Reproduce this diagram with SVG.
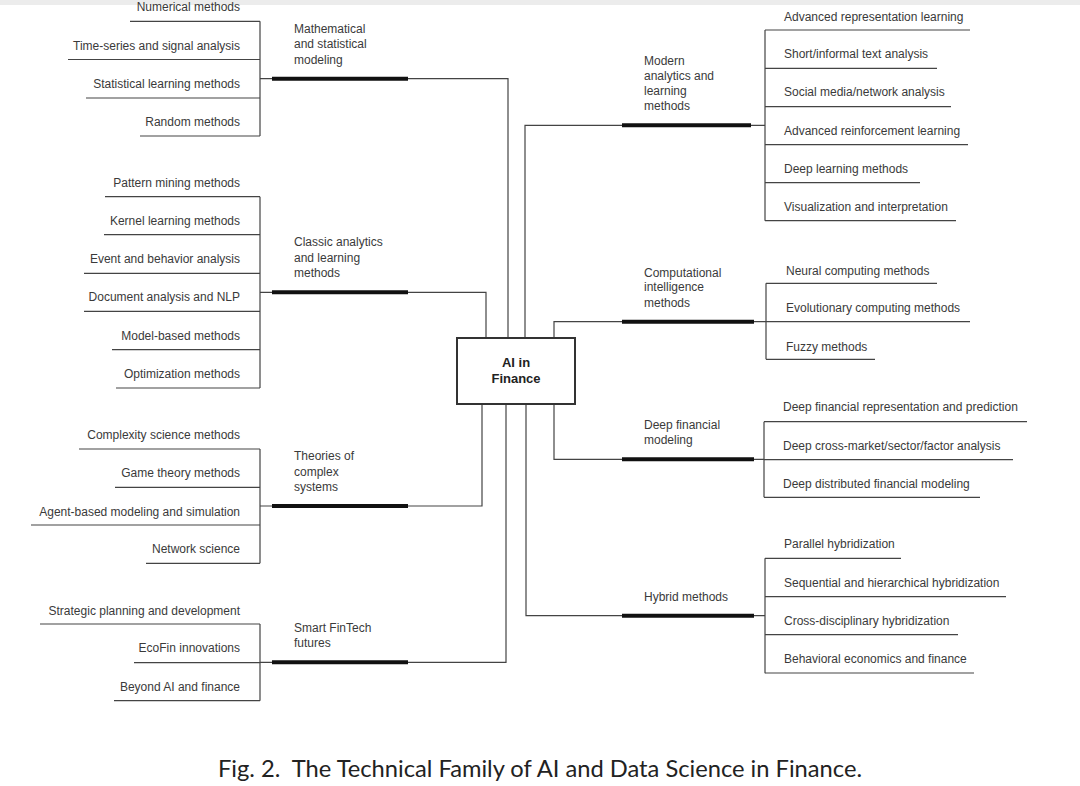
<svg xmlns="http://www.w3.org/2000/svg" width="1080" height="786" viewBox="0 0 1080 786">
<style>
text{font-family:"Liberation Sans",Arial,sans-serif;fill:#3a3a3a;font-size:12px}
.l{text-anchor:end}
.c{text-anchor:middle}
.thin{stroke:#444;stroke-width:1.2;fill:none}
.bar{stroke:#111;stroke-width:4;fill:none}
.box{fill:#fff;stroke:#333;stroke-width:2}
.ctr{font-size:13px;font-weight:bold;fill:#222}
.cap{font-family:Lato,"Open Sans",sans-serif;font-size:23px;fill:#222}
</style>
<rect x="0" y="0" width="1080" height="5" fill="#ececec"/>
<g id="connectors" class="thin">
<path d="M260 21.3V136M260 78.7H272M408 78.7H508V338"/>
<path d="M260 196.7V388M260 292.3H272M408 292.3H486V338"/>
<path d="M260 449V563.3M260 506H272M408 506H482V404"/>
<path d="M260 624V700.7M260 662.3H272M408 662.3H506V404"/>
<path d="M525 338V125.3H622M751 125.3H765M765 30V220.7"/>
<path d="M554 338V321.7H622M754 321.7H766M766 283.3V359.3"/>
<path d="M554 404V459.3H622M754 459.3H764M764 421.7V497.3"/>
<path d="M526 404V615.7H622M754 615.7H765M765 558.3V673.3"/>
</g>
<g id="center"><rect class="box" x="457" y="338" width="118" height="66"/><text class="c ctr" x="516" y="366.5">AI in</text><text class="c ctr" x="516" y="383">Finance</text></g>
<g id="cat-math"><path class="bar" d="M272 78.7H408"/><text x="294" y="33">Mathematical</text><text x="294" y="48.3">and statistical</text><text x="294" y="63.6">modeling</text></g>
<g id="cat-classic"><path class="bar" d="M272 292.3H408"/><text x="294" y="246.3">Classic analytics</text><text x="294" y="261.6">and learning</text><text x="294" y="277">methods</text></g>
<g id="cat-theories"><path class="bar" d="M272 506H408"/><text x="294" y="460">Theories of</text><text x="294" y="475.5">complex</text><text x="294" y="491">systems</text></g>
<g id="cat-smart"><path class="bar" d="M272 662.3H408"/><text x="294" y="631.7">Smart FinTech</text><text x="294" y="647">futures</text></g>
<g id="cat-modern"><path class="bar" d="M622 125.3H751"/><text x="644" y="64.7">Modern</text><text x="644" y="79.7">analytics and</text><text x="644" y="94.7">learning</text><text x="644" y="110">methods</text></g>
<g id="cat-ci"><path class="bar" d="M622 321.7H754"/><text x="644" y="276.7">Computational</text><text x="644" y="291.3">intelligence</text><text x="644" y="306.7">methods</text></g>
<g id="cat-deep"><path class="bar" d="M622 459.3H754"/><text x="644" y="429">Deep financial</text><text x="644" y="444">modeling</text></g>
<g id="cat-hybrid"><path class="bar" d="M622 615.7H754"/><text x="644" y="600.7">Hybrid methods</text></g>
<g id="leaf-numerical"><path class="thin" d="M130 21.3H260"/><text class="l" x="240" y="11.3">Numerical methods</text></g>
<g id="leaf-timeseries"><path class="thin" d="M68 59.5H260"/><text class="l" x="240" y="49.8">Time-series and signal analysis</text></g>
<g id="leaf-statlearn"><path class="thin" d="M86 98H260"/><text class="l" x="240" y="88">Statistical learning methods</text></g>
<g id="leaf-random"><path class="thin" d="M140 136H260"/><text class="l" x="240" y="126">Random methods</text></g>
<g id="leaf-pattern"><path class="thin" d="M105 196.7H260"/><text class="l" x="240" y="187">Pattern mining methods</text></g>
<g id="leaf-kernel"><path class="thin" d="M104 234.7H260"/><text class="l" x="240" y="225">Kernel learning methods</text></g>
<g id="leaf-event"><path class="thin" d="M84 273.3H260"/><text class="l" x="240" y="263.3">Event and behavior analysis</text></g>
<g id="leaf-document"><path class="thin" d="M84 311.3H260"/><text class="l" x="240" y="301.3">Document analysis and NLP</text></g>
<g id="leaf-model"><path class="thin" d="M112 349.7H260"/><text class="l" x="240" y="339.5">Model-based methods</text></g>
<g id="leaf-optim"><path class="thin" d="M116 388H260"/><text class="l" x="240" y="377.5">Optimization methods</text></g>
<g id="leaf-complexity"><path class="thin" d="M79 449H260"/><text class="l" x="240" y="439">Complexity science methods</text></g>
<g id="leaf-game"><path class="thin" d="M115 487.3H260"/><text class="l" x="240" y="477.3">Game theory methods</text></g>
<g id="leaf-agent"><path class="thin" d="M31 525H260"/><text class="l" x="240" y="515.5">Agent-based modeling and simulation</text></g>
<g id="leaf-network"><path class="thin" d="M146 563.3H260"/><text class="l" x="240" y="553.3">Network science</text></g>
<g id="leaf-strategic"><path class="thin" d="M40 624H260"/><text class="l" x="240" y="614.5">Strategic planning and development</text></g>
<g id="leaf-ecofin"><path class="thin" d="M134 662.7H260"/><text class="l" x="240" y="652.3">EcoFin innovations</text></g>
<g id="leaf-beyond"><path class="thin" d="M114 700.7H260"/><text class="l" x="240" y="690.7">Beyond AI and finance</text></g>
<g id="leaf-advrep"><path class="thin" d="M765 30H970"/><text x="784" y="20.5">Advanced representation learning</text></g>
<g id="leaf-short"><path class="thin" d="M765 68.3H937"/><text x="784" y="58.3">Short/informal text analysis</text></g>
<g id="leaf-social"><path class="thin" d="M765 106.7H951"/><text x="784" y="96.3">Social media/network analysis</text></g>
<g id="leaf-advrl"><path class="thin" d="M765 144.7H968"/><text x="784" y="134.7">Advanced reinforcement learning</text></g>
<g id="leaf-dl"><path class="thin" d="M765 182.7H920"/><text x="784" y="173">Deep learning methods</text></g>
<g id="leaf-vis"><path class="thin" d="M765 220.7H956"/><text x="784" y="211">Visualization and interpretation</text></g>
<g id="leaf-neural"><path class="thin" d="M766 283.3H937"/><text x="786" y="274.7">Neural computing methods</text></g>
<g id="leaf-evol"><path class="thin" d="M766 321.7H970"/><text x="786" y="312.3">Evolutionary computing methods</text></g>
<g id="leaf-fuzzy"><path class="thin" d="M766 359.3H875"/><text x="786" y="350.7">Fuzzy methods</text></g>
<g id="leaf-dfrep"><path class="thin" d="M764 421.7H1027"/><text x="783" y="411.3">Deep financial representation and prediction</text></g>
<g id="leaf-cross"><path class="thin" d="M764 459.7H1013"/><text x="783" y="449.7">Deep cross-market/sector/factor analysis</text></g>
<g id="leaf-distrib"><path class="thin" d="M764 497.3H980"/><text x="783" y="488">Deep distributed financial modeling</text></g>
<g id="leaf-parallel"><path class="thin" d="M765 558.3H901"/><text x="784" y="548.3">Parallel hybridization</text></g>
<g id="leaf-seq"><path class="thin" d="M765 596.7H1006"/><text x="784" y="586.7">Sequential and hierarchical hybridization</text></g>
<g id="leaf-crossdisc"><path class="thin" d="M765 634.7H958"/><text x="784" y="624.7">Cross-disciplinary hybridization</text></g>
<g id="leaf-behav"><path class="thin" d="M765 673H974"/><text x="784" y="662.7">Behavioral economics and finance</text></g>
<text class="cap" x="218" y="777" xml:space="preserve" textLength="644" lengthAdjust="spacingAndGlyphs">Fig. 2.  The Technical Family of AI and Data Science in Finance.</text>
</svg>
